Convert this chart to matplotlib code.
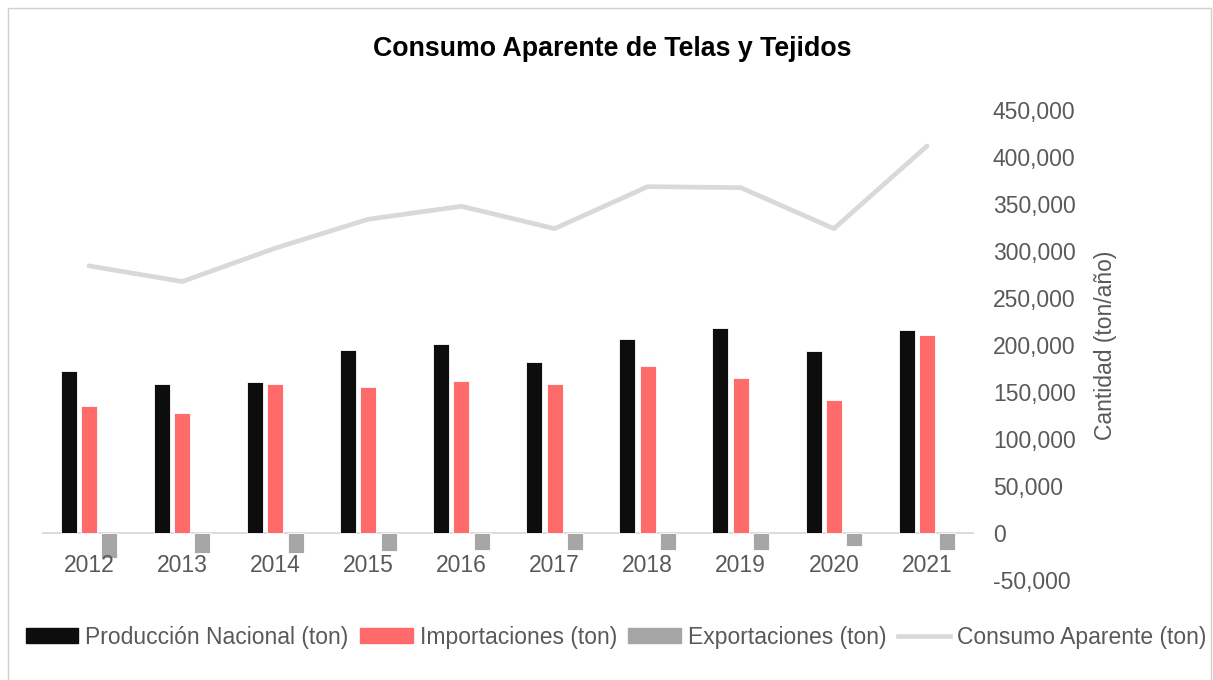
import numpy as np
import matplotlib.pyplot as plt
from matplotlib.patches import Rectangle, Patch
from matplotlib.lines import Line2D
from matplotlib.ticker import FuncFormatter

plt.rcParams['font.family'] = ['Liberation Sans', 'DejaVu Sans']

# Data (ton/año)
years = ["2012", "2013", "2014", "2015", "2016", "2017", "2018", "2019", "2020", "2021"]
produccion = [172600, 158000, 160800, 194900, 200900, 181800, 206200, 217900, 194100, 215800]
importaciones = [135600, 127900, 158700, 155200, 161600, 158400, 177900, 164800, 141700, 210500]
exportaciones = [-26300, -21700, -21300, -19600, -17800, -18500, -18500, -18500, -14200, -17800]
consumo = [284200, 267500, 303000, 333800, 347600, 323800, 368500, 367400, 323800, 411700]

c_prod = "#0d0d0d"
c_imp = "#ff6b6b"
c_exp = "#a6a6a6"
c_cons = "#d9d9d9"
c_text = "#595959"
fs = 16.5

fig = plt.figure(figsize=(12.13, 6.8), dpi=100)
ax = fig.add_axes([0.035, 0.1471, 0.7676, 0.6911])

x = np.arange(len(years))
w = 0.172
off = 0.218
ax.bar(x - off, produccion, w, color=c_prod, edgecolor="white", linewidth=0.6, zorder=2)
ax.bar(x, importaciones, w, color=c_imp, edgecolor="white", linewidth=0.6, zorder=2)
ax.bar(x + off, exportaciones, w, color=c_exp, edgecolor="white", linewidth=0.6, zorder=2)
ax.plot(x, consumo, color=c_cons, lw=3.4, solid_capstyle="round", solid_joinstyle="round", zorder=3)
ax.axhline(0, color=c_cons, lw=1.3, zorder=1)

ax.set_xlim(-0.5, len(years) - 0.5)
ax.set_ylim(-50000, 450000)
ax.set_yticks(np.arange(-50000, 450001, 50000))
ax.yaxis.set_major_formatter(FuncFormatter(lambda v, p: f"{int(v):,}"))
ax.yaxis.tick_right()
ax.yaxis.set_label_position("right")
ax.tick_params(axis="y", length=0, pad=14, labelsize=fs, labelcolor=c_text)
ax.set_ylabel("Cantidad (ton/año)", fontsize=fs, color=c_text, labelpad=13)

ax.set_xticks(x)
ax.set_xticklabels([])
ax.tick_params(axis="x", length=0)
for s in ax.spines.values():
    s.set_visible(False)
for xi, yr in zip(x, years):
    ax.text(xi, -34500, yr, ha="center", va="center", fontsize=fs, color=c_text)

fig.text(0.505, 0.928, "Consumo Aparente de Telas y Tejidos", ha="center", va="center",
         fontsize=19.3, fontweight="bold", color="black")

handles = [Patch(color=c_prod), Patch(color=c_imp), Patch(color=c_exp),
           Line2D([0], [0], color=c_cons, lw=3.4)]
labels = ["Producción Nacional (ton)", "Importaciones (ton)", "Exportaciones (ton)",
          "Consumo Aparente (ton)"]
fig.legend(handles, labels, loc="center", bbox_to_anchor=(0.508, 0.063), ncol=4,
           frameon=False, fontsize=fs, handlelength=2.3, handleheight=0.6,
           handletextpad=0.3, columnspacing=0.5, labelcolor=c_text,
           borderaxespad=0, borderpad=0)

fig.patches.append(Rectangle((0.007, -0.01), 0.991, 0.998, transform=fig.transFigure,
                             fill=False, edgecolor="#d0d0d0", lw=1.0))

fig.savefig("out.png", dpi=100)
